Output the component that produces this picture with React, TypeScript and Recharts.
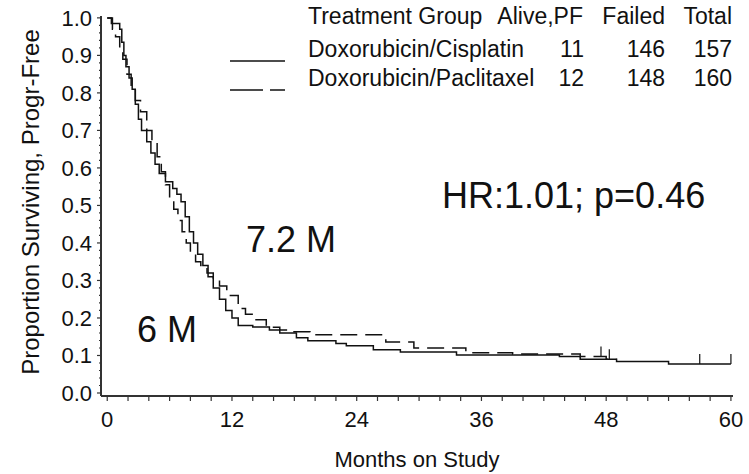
import { ComposedChart, Line, XAxis, YAxis, Label } from "recharts";

// Kaplan-Meier estimates (months, proportion progression-free)
const cisplatinMonths = [0, 0.4, 1.2, 1.4, 1.6, 1.8, 2.1, 2.4, 2.7, 3.0, 3.3, 3.8, 4.2, 4.6, 5.0, 5.6, 6.3, 6.7, 7.1, 7.5, 7.9, 8.3, 8.7, 9.2, 9.7, 10.2, 10.8, 11.4, 12.0, 12.6, 14.0, 15.6, 16.6, 18.2, 19.3, 22.0, 23.0, 25.6, 28.2, 33.6, 43.5, 45.5, 49.0, 54.0, 60.0];
const cisplatinSurv = [1.0, 0.985, 0.97, 0.935, 0.9, 0.87, 0.84, 0.81, 0.77, 0.73, 0.7, 0.67, 0.64, 0.61, 0.585, 0.563, 0.545, 0.53, 0.51, 0.47, 0.43, 0.4, 0.37, 0.34, 0.31, 0.28, 0.25, 0.22, 0.2, 0.18, 0.176, 0.168, 0.16, 0.147, 0.139, 0.132, 0.126, 0.115, 0.109, 0.101, 0.097, 0.09, 0.084, 0.077, 0.077];

const paclitaxelMonths = [0, 0.5, 0.8, 1.2, 1.5, 1.9, 2.3, 2.7, 3.2, 3.8, 4.3, 4.8, 5.2, 5.6, 6.0, 6.4, 6.8, 7.2, 7.6, 8.0, 8.5, 9.0, 9.6, 10.2, 10.8, 11.5, 12.6, 13.3, 14.2, 15.3, 16.6, 17.6, 19.5, 26.8, 29.5, 34.5, 39.0, 45.5, 48.0, 49.0];
const paclitaxelSurv = [1.0, 0.97, 0.95, 0.92, 0.89, 0.85, 0.81, 0.78, 0.75, 0.7, 0.67, 0.63, 0.59, 0.555, 0.52, 0.49, 0.46, 0.43, 0.4, 0.37, 0.35, 0.34, 0.32, 0.3, 0.285, 0.26, 0.225, 0.21, 0.195, 0.175, 0.168, 0.163, 0.155, 0.136, 0.12, 0.107, 0.104, 0.097, 0.09, 0.09];

// censored observations (months)
const cisplatinCensored = [57, 60];
const paclitaxelCensored = [47.5, 48.3];

const groups = ["Doxorubicin/Cisplatin", "Doxorubicin/Paclitaxel"];
const alivePF = [11, 12];
const failed = [146, 148];
const total = [157, 160];

const xTicks = [0, 2, 4, 6, 8, 10, 12, 14, 16, 18, 20, 22, 24, 26, 28, 30, 32, 34, 36, 38, 40, 42, 44, 46, 48, 50, 52, 54, 56, 58, 60];
const yTicks = [0, 0.02, 0.04, 0.06, 0.08, 0.1, 0.12, 0.14, 0.16, 0.18, 0.2, 0.22, 0.24, 0.26, 0.28, 0.3, 0.32, 0.34, 0.36, 0.38, 0.4, 0.42, 0.44, 0.46, 0.48, 0.5, 0.52, 0.54, 0.56, 0.58, 0.6, 0.62, 0.64, 0.66, 0.68, 0.7, 0.72, 0.74, 0.76, 0.78, 0.8, 0.82, 0.84, 0.86, 0.88, 0.9, 0.92, 0.94, 0.96, 0.98, 1.0];

const toRows = (months: number[], surv: number[]) => months.map((t, i) => ({ t, s: surv[i] }));

// value of a step curve at time t
const stepAt = (months: number[], surv: number[], t: number) => {
  let v = surv[0];
  months.forEach((m, i) => {
    if (m <= t) v = surv[i];
  });
  return v;
};

const cisData = toRows(cisplatinMonths, cisplatinSurv);
const pacData = toRows(paclitaxelMonths, paclitaxelSurv);
const cisCensorData = cisplatinCensored.map((t) => ({ t, s: stepAt(cisplatinMonths, cisplatinSurv, t) }));
const pacCensorData = paclitaxelCensored.map((t) => ({ t, s: stepAt(paclitaxelMonths, paclitaxelSurv, t) }));

const FONT = "'Liberation Sans', Arial, sans-serif";
const INK = "#111";

const XTick = (props: any) => {
  const { x, y, payload } = props;
  const v = payload.value;
  return (
    <g>
      <line x1={x} x2={x} y1={y} y2={y + 5} stroke="#333" strokeWidth={1.2} />
      {v % 12 === 0 && (
        <text x={x} y={y + 31} textAnchor="middle" fontSize={22} fontFamily={FONT} fill={INK}>
          {v}
        </text>
      )}
    </g>
  );
};

const YTick = (props: any) => {
  const { x, y, payload } = props;
  const v = payload.value;
  const major = Math.round(v * 100) % 10 === 0;
  return (
    <g>
      <line x1={x - (major ? 4 : 2)} x2={x} y1={y} y2={y} stroke="#333" strokeWidth={1.2} />
      {major && (
        <text x={x - 9} y={y} dy="0.35em" textAnchor="end" fontSize={22} fontFamily={FONT} fill={INK}>
          {v.toFixed(1)}
        </text>
      )}
    </g>
  );
};

const CensorTick = (props: any) => {
  const { cx, cy, index } = props;
  if (cx == null || cy == null) return <g key={index} />;
  return <line key={index} x1={cx} x2={cx} y1={cy - 10} y2={cy} stroke={INK} strokeWidth={1.2} />;
};

export default function App() {
  return (
    <div style={{ position: "absolute", left: 0, top: 0, width: 749, height: 474, background: "#fff" }}>
      <ComposedChart width={749} height={474} margin={{ top: 16, right: 16, bottom: 0, left: 0 }}>
        <XAxis
          type="number"
          dataKey="t"
          domain={[-0.6, 60.2]}
          allowDataOverflow
          ticks={xTicks}
          interval={0}
          tick={<XTick />}
          tickLine={false}
          tickSize={0}
          tickMargin={0}
          axisLine={{ stroke: "#333", strokeWidth: 2 }}
          height={78}
        >
          <Label value="Months on Study" position="insideBottom" offset={7} fontSize={22} fontFamily={FONT} fill={INK} />
        </XAxis>
        <YAxis
          type="number"
          dataKey="s"
          domain={[-0.008, 1.005]}
          allowDataOverflow
          ticks={yTicks}
          interval={0}
          tick={<YTick />}
          tickLine={false}
          tickSize={0}
          tickMargin={0}
          axisLine={{ stroke: "#333", strokeWidth: 2 }}
          width={101}
        >
          <Label
            value="Proportion Surviving, Progr-Free"
            angle={-90}
            position="insideLeft"
            offset={30}
            dy={-4}
            fontSize={24}
            fontFamily={FONT}
            fill={INK}
            style={{ textAnchor: "middle" }}
          />
        </YAxis>
        <Line data={cisData} dataKey="s" type="stepAfter" stroke={INK} strokeWidth={1.5} dot={false} isAnimationActive={false} />
        <Line data={pacData} dataKey="s" type="stepAfter" stroke={INK} strokeWidth={1.5} strokeDasharray="17 8" dot={false} isAnimationActive={false} />
        <Line data={cisCensorData} dataKey="s" stroke="none" dot={<CensorTick />} isAnimationActive={false} />
        <Line data={pacCensorData} dataKey="s" stroke="none" dot={<CensorTick />} isAnimationActive={false} />
      </ComposedChart>

      <svg width={749} height={474} style={{ position: "absolute", left: 0, top: 0, pointerEvents: "none" }} fontFamily={FONT} fill={INK}>
        <g fontSize={23}>
          <text x={308} y={24}>Treatment Group</text>
          <text x={583} y={24} textAnchor="end">Alive,PF</text>
          <text x={665} y={24} textAnchor="end">Failed</text>
          <text x={732} y={24} textAnchor="end">Total</text>
          {groups.map((g, i) => {
            const y = 57 + i * 29;
            return (
              <g key={g}>
                <line x1={230} x2={285} y1={y + 4} y2={y + 4} stroke={INK} strokeWidth={1.5} strokeDasharray={i === 1 ? "33 7" : undefined} />
                <text x={308} y={y}>{g}</text>
                <text x={584} y={y} textAnchor="end">{alivePF[i]}</text>
                <text x={665} y={y} textAnchor="end">{failed[i]}</text>
                <text x={732} y={y} textAnchor="end">{total[i]}</text>
              </g>
            );
          })}
        </g>
        <g fontSize={36}>
          <text x={442} y={208}>HR:1.01; p=0.46</text>
          <text x={246} y={252}>7.2 M</text>
          <text x={137} y={342}>6 M</text>
        </g>
      </svg>
    </div>
  );
}
